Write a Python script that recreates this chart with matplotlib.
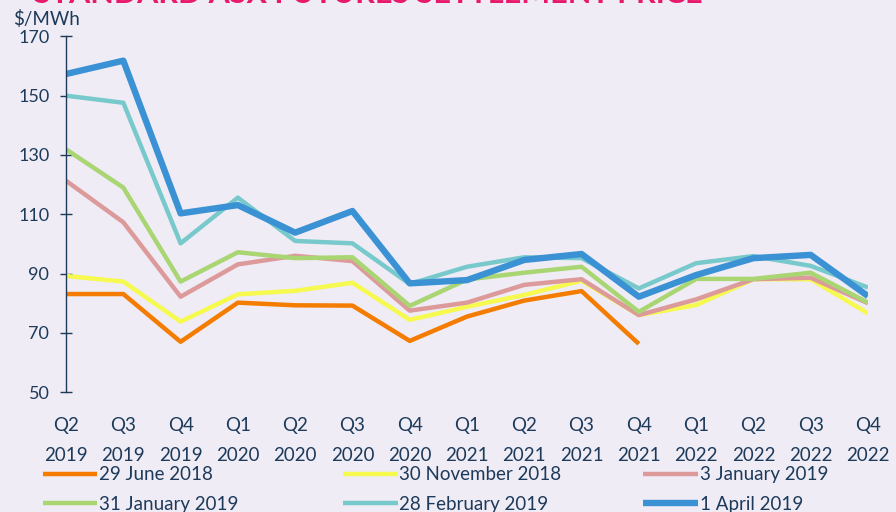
import matplotlib.pyplot as plt

quarters = ["Q2\n2019", "Q3\n2019", "Q4\n2019", "Q1\n2020", "Q2\n2020", "Q3\n2020", "Q4\n2020",
            "Q1\n2021", "Q2\n2021", "Q3\n2021", "Q4\n2021", "Q1\n2022", "Q2\n2022", "Q3\n2022", "Q4\n2022"]

june_2018 = [83.1, 83.1, 67, 80.2, 79.3, 79.2, 67.3, 75.5, 80.9, 84.1, 66.3]
nov_2018 = [89.2, 87.3, 73.8, 83, 84.2, 86.9, 74.4, 78.8, 82.8, 87.6, 76, 79.4, 88.1, 88.1, 76.6]
jan3_2019 = [121.3, 107.3, 82.2, 93.1, 96, 94.2, 77.5, 80.2, 86.2, 88.1, 76, 81.3, 88.1, 88.6, 80]
jan31_2019 = [131.9, 119, 87.3, 97.2, 95.2, 95.5, 79.1, 88, 90.3, 92.3, 77.1, 88.2, 88.2, 90.3, 80.2]
feb_2019 = [150, 147.6, 100.2, 115.6, 101, 100.2, 86.5, 92.3, 95.5, 95.2, 85, 93.5, 95.9, 92.6, 85.3]
apr_2019 = [157.3, 161.8, 110.3, 113.1, 103.8, 111.1, 86.7, 87.8, 94.6, 96.6, 82.2, 89.5, 95.2, 96.3, 82.4]

series = [
    ("29 June 2018", june_2018, "#f47c00", 3.2),
    ("30 November 2018", nov_2018, "#f6f94e", 3.2),
    ("3 January 2019", jan3_2019, "#dc9a9a", 3.2),
    ("31 January 2019", jan31_2019, "#a9d672", 3.2),
    ("28 February 2019", feb_2019, "#78c9cc", 3.2),
    ("1 April 2019", apr_2019, "#3a91d4", 4.6),
]

bg = "#efecf5"
navy = "#1d3a5a"
plt.rcParams['font.family'] = ['Lato', 'DejaVu Sans']

fig = plt.figure(figsize=(8.96, 5.12), dpi=100, facecolor=bg)
ax = fig.add_axes([0.0737, 0.234, 0.895, 0.695])
ax.set_facecolor(bg)

lines = []
for name, vals, color, lw in series:
    ln, = ax.plot(range(len(vals)), vals, color=color, lw=lw, label=name, solid_capstyle='butt')
    lines.append(ln)

ax.set_xlim(0, 14)
ax.set_ylim(50, 170)
ax.set_yticks(range(50, 171, 20))
ax.set_xticks(range(len(quarters)))
ax.set_xticklabels(quarters, linespacing=1.9)

for s in ["top", "right", "bottom"]:
    ax.spines[s].set_visible(False)
ax.spines["left"].set_color(navy)
ax.spines["left"].set_linewidth(1)

ax.tick_params(axis="y", direction="inout", length=8, width=1, color=navy,
               labelcolor=navy, labelsize=13, pad=8)
ax.tick_params(axis="x", length=0, labelcolor=navy, labelsize=13.5, pad=18)

fig.text(0.015, 0.962, "$/MWh", color=navy, fontsize=13.5, va="center")
fig.text(0.038, 1.012, "STANDARD ASX FUTURES SETTLEMENT PRICE", color="#e8196b",
         fontsize=22, fontweight="bold", va="center")

# legend laid out row by row in three fixed columns
for col, x0 in enumerate([0.048, 0.383, 0.718]):
    hs = [lines[col], lines[col + 3]]
    fig.legend(hs, [h.get_label() for h in hs], loc="upper left",
               bbox_to_anchor=(x0, 0.089), frameon=False, fontsize=13.5,
               labelcolor=navy, handlelength=2.9, handletextpad=0.1,
               labelspacing=0.67, borderpad=0, borderaxespad=0)

fig.savefig("out.png", dpi=100, facecolor=bg)
